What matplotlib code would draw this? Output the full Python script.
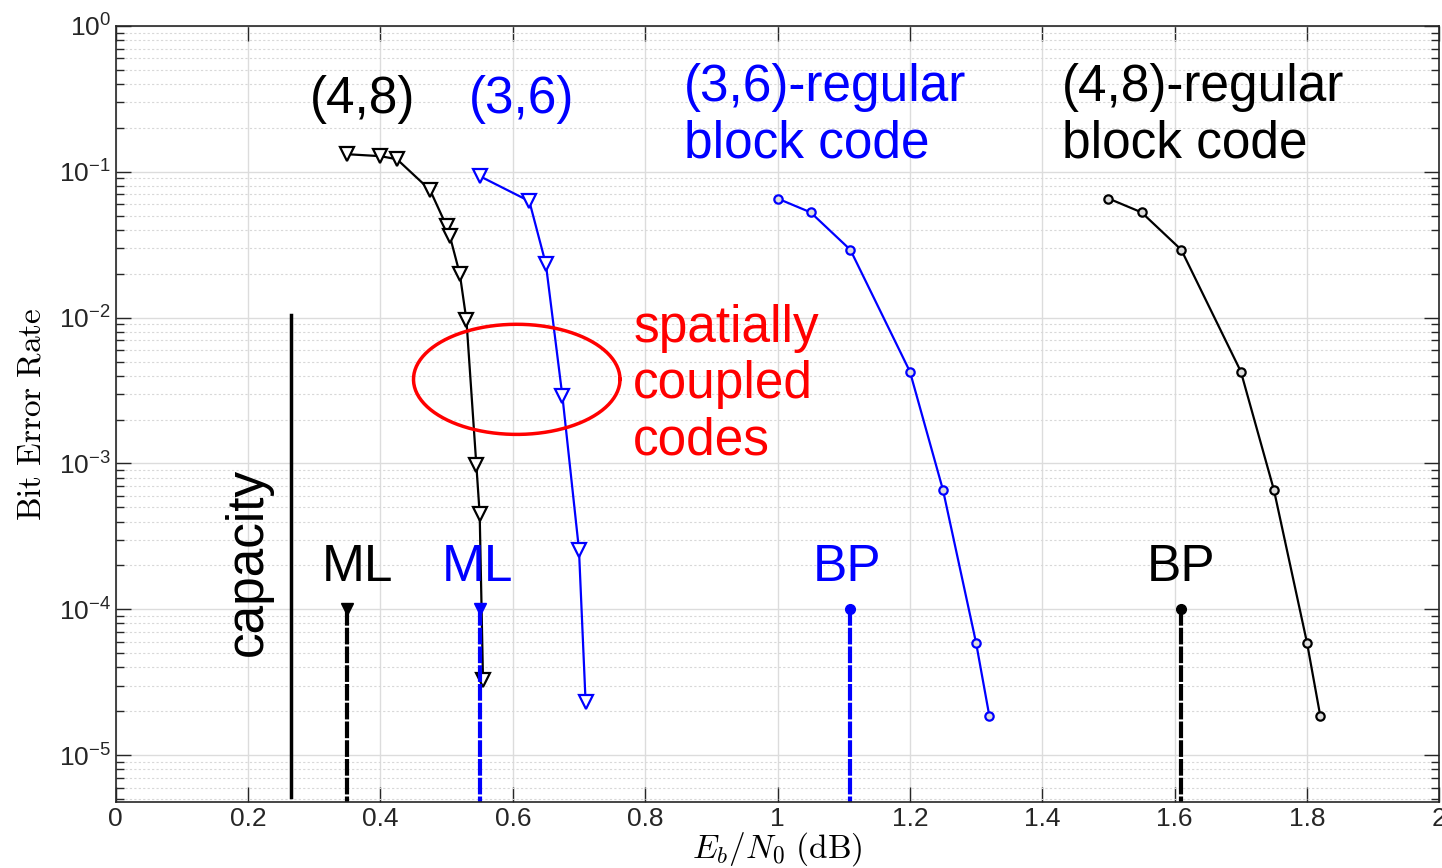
import matplotlib
matplotlib.use('Agg')
import matplotlib.pyplot as plt
import numpy as np
from matplotlib.ticker import FixedLocator, FuncFormatter, LogLocator, NullFormatter

plt.rcParams['font.family'] = ['Liberation Sans', 'DejaVu Sans']
plt.rcParams['mathtext.fontset'] = 'custom'
plt.rcParams['mathtext.rm'] = 'Liberation Sans'

# spatially coupled (4,8) and (3,6) ensembles
sc48_x = [0.35, 0.40, 0.425, 0.475, 0.50, 0.505, 0.52, 0.53, 0.545, 0.55, 0.555]
sc48_y = [0.132, 0.128, 0.122, 0.075, 0.0424, 0.0362, 0.0199, 0.0096, 9.7e-4, 4.5e-4, 3.3e-5]
sc36_x = [0.55, 0.625, 0.65, 0.675, 0.70, 0.71]
sc36_y = [0.0934, 0.0629, 0.0233, 2.89e-3, 2.57e-4, 2.33e-5]

# regular block codes
blk36_x = [1.00, 1.05, 1.11, 1.20, 1.25, 1.30, 1.32]
blk36_y = [0.0656, 0.0527, 0.0292, 4.27e-3, 6.58e-4, 5.89e-5, 1.86e-5]
blk48_x = [1.50, 1.55, 1.61, 1.70, 1.75, 1.80, 1.82]
blk48_y = [0.0656, 0.0527, 0.0292, 4.27e-3, 6.58e-4, 5.89e-5, 1.86e-5]

# thresholds
ml48, ml36 = 0.35, 0.55
bp36, bp48 = 1.11, 1.61
capacity = 0.265
thr_y = 1e-4

ymin, ymax = 4.8e-6, 1.0

BLUE = '#0000ff'
RED = '#ff0000'
GRAY = '#262626'

fig = plt.figure(figsize=(14.42, 8.68), dpi=100)
ax = fig.add_axes([0.0802, 0.0764, 0.918, 0.8937])
ax.set_yscale('log')
ax.set_xlim(0, 2)
ax.set_ylim(ymin, ymax)

# grid
ax.grid(True, which='major', color='#dcdcdc', linewidth=1.0, linestyle='-')
ax.grid(True, which='minor', axis='y', color='#d8d8d8', linewidth=0.8, linestyle=(0, (2, 2)))
ax.set_axisbelow(True)

# curves
ax.plot(sc48_x, sc48_y, color='black', lw=1.6, marker='v', ms=10, mfc='white', mec='black', mew=1.6)
ax.plot(sc36_x, sc36_y, color=BLUE, lw=1.6, marker='v', ms=10, mfc='white', mec=BLUE, mew=1.6)
ax.plot(blk36_x, blk36_y, color=BLUE, lw=1.6, marker='o', ms=6, mfc='#dddddd', mec=BLUE, mew=1.6)
ax.plot(blk48_x, blk48_y, color='black', lw=1.6, marker='o', ms=6, mfc='#dddddd', mec='black', mew=1.6)

# threshold stems
for xv, c, m in [(ml48, 'black', 'v'), (ml36, BLUE, 'v'), (bp36, BLUE, 'o'), (bp48, 'black', 'o')]:
    ax.plot([xv, xv], [thr_y, ymin], color=c, lw=3, linestyle=(0, (4, 0.5)))
    ax.plot([xv], [thr_y], color=c, marker=m, ms=9 if m == 'v' else 7, mfc=c, mec=c)

# capacity line
ax.plot([capacity, capacity], [0.0104, 5.2e-6], color='black', lw=2.5)

# ellipse around SC waterfall (log space)
t = np.linspace(0, 2 * np.pi, 200)
ex = 0.606 + 0.156 * np.cos(t)
ey = 10 ** (-2.423 + 0.3775 * np.sin(t))
ax.plot(ex, ey, color=RED, lw=2.5)

fs = 37
ls = 1.2
ax.text(0.3725, 0.313, '(4,8)', fontsize=fs, color='black', ha='center', va='center')
ax.text(0.614, 0.313, '(3,6)', fontsize=fs, color=BLUE, ha='center', va='center')
ax.text(0.859, 0.243, '(3,6)-regular\nblock code', fontsize=fs, color=BLUE, ha='left', va='center', linespacing=ls)
ax.text(1.430, 0.243, '(4,8)-regular\nblock code', fontsize=fs, color='black', ha='left', va='center', linespacing=ls)
ax.text(0.782, 3.46e-3, 'spatially\ncoupled\ncodes', fontsize=fs, color=RED, ha='left', va='center', linespacing=ls)
ax.text(0.366, 1.95e-4, 'ML', fontsize=fs, color='black', ha='center', va='center')
ax.text(0.547, 1.95e-4, 'ML', fontsize=fs, color=BLUE, ha='center', va='center')
ax.text(1.105, 1.95e-4, 'BP', fontsize=fs, color=BLUE, ha='center', va='center')
ax.text(1.609, 1.95e-4, 'BP', fontsize=fs, color='black', ha='center', va='center')
ax.text(0.2, 2.11e-4, 'capacity', fontsize=fs, color='black', ha='center', va='center', rotation=90)

# ticks
xticks = [0, 0.2, 0.4, 0.6, 0.8, 1.0, 1.2, 1.4, 1.6, 1.8, 2.0]
ax.xaxis.set_major_locator(FixedLocator(xticks))
ax.xaxis.set_major_formatter(FuncFormatter(lambda v, p: '%g' % v))
ax.yaxis.set_major_locator(LogLocator(base=10, numticks=10))
ax.yaxis.set_minor_locator(LogLocator(base=10, subs=np.arange(2, 10), numticks=20))
ax.yaxis.set_minor_formatter(NullFormatter())
ax.tick_params(which='both', direction='in', top=True, right=True, colors=GRAY, labelsize=19)
ax.tick_params(axis='x', pad=4)
ax.tick_params(which='major', length=11, width=1)
ax.tick_params(which='minor', length=6, width=1)
for s in ax.spines.values():
    s.set_color(GRAY)
    s.set_linewidth(1.2)

ax.set_xlabel(r'$E_b/N_0\ \mathrm{(dB)}$', fontsize=24, labelpad=-1,
              math_fontfamily='cm')
ax.set_ylabel(r'$\mathrm{Bit\ Error\ Rate}$', fontsize=24, labelpad=8,
              math_fontfamily='cm')

fig.savefig('out.png', dpi=100)
